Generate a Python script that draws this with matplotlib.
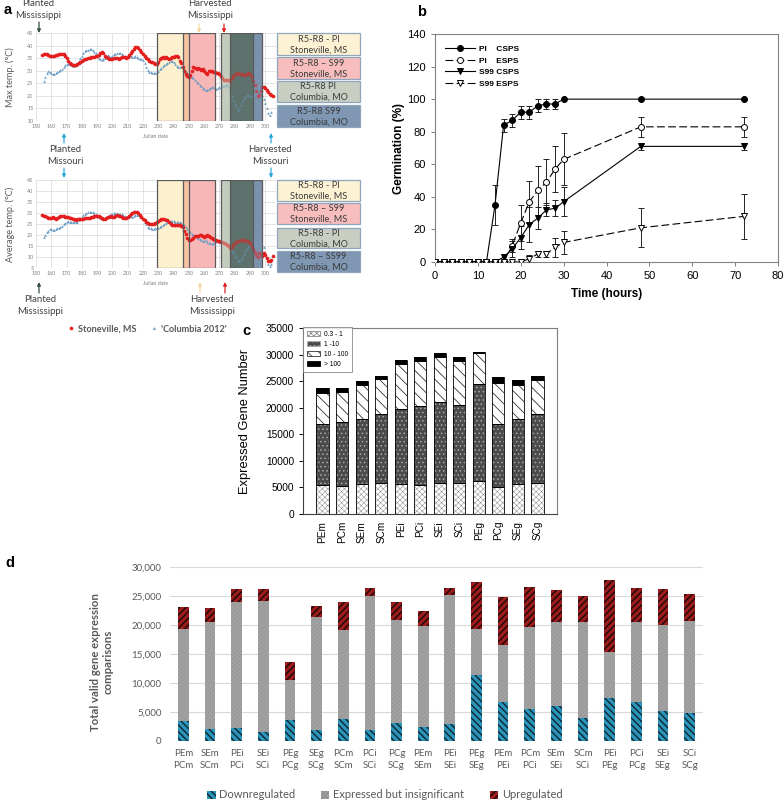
import matplotlib
matplotlib.use("Agg")
import matplotlib.pyplot as plt
from matplotlib.patches import Rectangle, FancyArrowPatch, Patch
from matplotlib.lines import Line2D
import numpy as np

# ---------------- DATA ----------------
# Panel a: daily temperatures
days_ms = list(range(154, 306))
days_mo = list(range(155, 305))
max_ms = [36.3, 36.6, 36.8, 36.5, 36.2, 36.0, 35.9, 35.8, 35.9, 36.1,
          36.3, 36.5, 36.6, 36.6, 36.5, 36.0, 35.0, 33.8, 33.2, 32.8,
          32.4, 32.1, 32.2, 32.5, 33.0, 33.4, 33.7, 34.1, 34.5, 34.8,
          35.0, 35.1, 35.3, 35.5, 35.6, 35.7, 35.8, 36.3, 37.0, 37.6,
          37.0, 36.0, 35.3, 35.0, 34.7, 34.6, 34.8, 35.0, 35.2, 35.0,
          34.8, 35.1, 35.5, 35.6, 35.3, 35.0, 35.6, 36.3, 37.0, 37.8,
          38.6, 39.3, 39.6, 39.0, 38.2, 37.5, 36.8, 36.0, 35.2, 34.5,
          34.0, 33.6, 33.3, 33.0, 32.8, 32.6, 33.5, 34.6, 35.2, 35.4,
          35.2, 35.5, 35.0, 34.8, 35.1, 35.4, 35.6, 35.9, 35.8, 35.5,
          34.0, 33.0, 31.5, 30.0, 28.8, 27.8, 27.5, 28.3, 30.0, 31.5,
          31.2, 30.8, 31.0, 30.6, 30.2, 30.5, 30.0, 29.2, 28.6, 29.8,
          30.0, 29.8, 29.5, 29.3, 29.2, 29.0, 28.6, 28.0, 27.2, 26.5,
          26.2, 26.4, 26.5, 26.0, 27.0, 28.0, 28.6, 28.8, 28.9, 28.8,
          28.6, 28.5, 28.4, 28.4, 28.7, 29.2, 28.6, 27.5, 25.8, 24.2,
          22.0, 20.0, 20.5, 22.0, 23.5, 23.6, 23.0, 22.4, 21.6, 20.8,
          20.2, 19.8]
max_mo = [26.0, 27.5, 29.0, 29.8, 29.5, 29.0, 28.8, 28.8, 29.2, 29.6,
          30.0, 30.4, 30.8, 31.5, 32.2, 32.6, 32.8, 32.5, 32.2, 32.0,
          31.8, 32.3, 33.0, 34.0, 35.0, 36.0, 37.0, 37.8, 38.2, 38.4,
          38.5, 38.6, 38.2, 37.6, 37.0, 36.0, 35.0, 34.5, 34.2, 34.6,
          35.2, 35.8, 36.3, 36.0, 35.6, 36.0, 36.5, 36.8, 37.0, 37.2,
          37.0, 36.6, 36.2, 35.8, 35.5, 35.6, 35.8, 35.7, 35.5, 35.6,
          35.7, 35.6, 35.2, 34.8, 34.6, 34.2, 33.0, 31.5, 30.2, 29.6,
          29.3, 29.1, 29.0, 29.0, 29.3, 29.8, 30.5, 31.2, 31.8, 32.3,
          32.8, 33.2, 33.5, 33.8, 34.0, 33.6, 32.8, 32.0, 31.6, 31.5,
          31.3, 31.0, 30.5, 29.8, 29.2, 28.8, 28.3, 27.6, 27.0, 26.2,
          25.5, 25.0, 24.4, 23.8, 23.2, 22.6, 22.2, 22.4, 22.9, 23.3,
          23.6, 23.4, 23.0, 22.8, 23.0, 23.4, 23.7, 24.0, 23.8, 24.2,
          24.4, 23.5, 21.8, 20.0, 18.4, 16.8, 15.4, 14.4, 15.2, 16.4,
          17.8, 18.8, 19.6, 20.2, 20.4, 20.0, 19.8, 20.6, 21.8, 22.6,
          23.0, 22.4, 21.5, 20.3, 18.8, 17.2, 15.0, 13.0, 12.2, 13.6]
avg_ms = [29.0, 28.8, 28.6, 28.2, 27.9, 27.6, 27.8, 28.2, 27.8, 27.4,
          27.8, 28.4, 28.6, 28.7, 28.5, 28.3, 28.4, 28.2, 27.9, 27.6,
          27.4, 27.2, 27.0, 27.2, 27.5, 27.3, 27.2, 27.5, 27.8, 27.6,
          27.7, 27.9, 28.1, 28.3, 28.5, 28.6, 28.8, 28.6, 28.2, 27.8,
          27.5, 27.4, 27.6, 28.0, 28.3, 28.5, 28.4, 28.2, 28.6, 29.0,
          28.8, 28.5, 28.0, 27.7, 27.6, 27.8, 28.2, 28.8, 29.5, 30.0,
          30.4, 30.6, 30.3, 29.8, 29.0, 28.2, 27.5, 26.8, 26.0, 25.4,
          25.0, 24.8, 24.9, 25.2, 25.6, 26.0, 26.4, 26.8, 27.2, 27.5,
          27.3, 27.0, 26.6, 26.0, 25.2, 24.6, 24.5, 24.4, 24.5, 24.6,
          24.4, 24.0, 23.5, 22.0, 20.5, 18.8, 17.8, 17.6, 18.0, 18.8,
          19.4, 19.6, 19.4, 19.8, 20.0, 19.6, 19.2, 19.4, 19.8, 19.5,
          19.0, 18.6, 18.2, 17.9, 17.6, 17.4, 17.2, 17.0, 16.8, 16.5,
          16.0, 15.5, 14.8, 14.0, 14.5, 15.5, 16.4, 17.0, 17.3, 17.5,
          17.6, 17.7, 17.6, 17.5, 17.4, 17.3, 16.5, 15.2, 13.8, 12.2,
          11.0, 10.0, 12.0, 11.5, 10.5, 11.8, 11.0, 9.5, 8.4, 8.0,
          8.6, 10.5]
avg_mo = [19.2, 20.2, 21.2, 22.0, 22.6, 22.8, 22.5, 22.4, 22.6, 23.0,
          23.3, 23.5, 24.0, 24.8, 25.5, 26.0, 26.2, 26.1, 26.0, 25.8,
          25.9, 26.1, 26.0, 26.6, 27.4, 28.2, 28.9, 29.5, 30.0, 30.3,
          30.5, 30.6, 30.4, 30.0, 29.5, 29.0, 28.3, 27.8, 27.5, 27.4,
          27.6, 28.0, 28.6, 29.1, 29.4, 29.6, 29.8, 30.0, 29.8, 29.5,
          29.6, 29.4, 29.0, 28.6, 28.4, 28.6, 28.8, 28.6, 28.3, 28.5,
          28.9, 29.1, 29.0, 28.6, 28.0, 27.2, 26.0, 24.8, 23.8, 23.2,
          23.0, 22.9, 22.9, 23.0, 23.2, 23.4, 23.8, 24.2, 24.6, 25.1,
          25.6, 26.0, 26.3, 26.5, 26.4, 26.2, 26.0, 25.8, 25.9, 25.8,
          25.4, 24.9, 24.4, 23.6, 22.8, 22.0, 21.3, 20.6, 20.0, 19.4,
          18.9, 18.5, 18.2, 17.8, 17.4, 17.2, 17.6, 17.0, 16.5, 16.2,
          16.0, 16.5, 17.0, 17.3, 17.2, 17.0, 17.2, 17.4, 17.0, 16.6,
          16.0, 15.4, 14.6, 13.4, 12.2, 11.0, 10.0, 8.8, 8.2, 9.0,
          10.2, 11.4, 12.6, 13.6, 14.6, 15.5, 15.0, 14.6, 15.4, 16.4,
          17.2, 17.5, 16.8, 15.6, 14.4, 12.0, 9.5, 6.6, 5.9, 6.8]
# R5-R8 stage windows (Julian dates)
stage_pi_ms = (229, 250)
stage_s99_ms = (246, 267)
stage_pi_mo = (271, 292)
stage_s99_mo = (277, 298)
box_labels_top = ["R5-R8 - PI\nStoneville, MS", "R5-R8 \u2013 S99\nStoneville, MS",
                  "R5-R8 PI\nColumbia, MO", "R5-R8 S99\nColumbia, MO"]
box_labels_bot = ["R5-R8 - PI\nStoneville, MS", "R5-R8 \u2013 S99\nStoneville, MS",
                  "R5-R8 - PI\nColumbia, MO", "R5-R8 \u2013 SS99\nColumbia, MO"]

# Panel b: germination
time_h = [0, 2, 4, 6, 8, 10, 12, 14, 16, 18, 20, 22, 24, 26, 28, 30, 48, 72]
pi_csps = [0, 0, 0, 0, 0, 0, 0, 35, 84, 87, 92, 92, 96, 97, 97, 100, 100, 100]
pi_csps_err = [0, 0, 0, 0, 0, 0, 0, 12, 4, 4, 4, 4, 4, 3, 3, 0, 0, 0]
pi_esps = [0, 0, 0, 0, 0, 0, 0, 0, 0, 10, 24, 37, 44, 49, 57, 63, 83, 83]
pi_esps_err = [0, 0, 0, 0, 0, 0, 0, 0, 0, 4, 11, 13, 15, 14, 14, 16, 6, 6]
s99_csps = [0, 0, 0, 0, 0, 0, 0, 0, 3, 8, 15, 23, 27, 32, 33, 37, 71, 71]
s99_csps_err = [0, 0, 0, 0, 0, 0, 0, 0, 2, 5, 7, 11, 7, 4, 5, 9, 2, 2]
s99_esps = [0, 0, 0, 0, 0, 0, 0, 0, 0, 0, 0, 2, 5, 5, 9, 12, 21, 28]
s99_esps_err = [0, 0, 0, 0, 0, 0, 0, 0, 0, 0, 0, 2, 2, 2, 6, 7, 12, 14]
b_labels = ["PI    CSPS", "PI    ESPS", "S99 CSPS", "S99 ESPS"]

# Panel c: expressed gene numbers by FPKM class
c_cats = ["PEm", "PCm", "SEm", "SCm", "PEi", "PCi", "SEi", "SCi", "PEg", "PCg", "SEg", "SCg"]
c_03_1 = [5400, 5300, 5600, 5800, 5600, 5500, 5800, 5800, 6200, 5100, 5600, 5800]
c_1_10 = [11500, 12100, 12200, 13100, 14200, 14900, 15200, 14700, 18300, 11900, 12200, 13100]
c_10_100 = [5800, 5600, 6400, 6500, 8400, 8300, 8500, 8200, 5800, 7700, 6500, 6400]
c_gt100 = [950, 800, 900, 650, 850, 750, 800, 850, 250, 1150, 930, 750]
c_legend = ["0.3 - 1", "1 -10", "10 - 100", "> 100"]

# Panel d: comparisons
d_labels = ["PEm\nPCm", "SEm\nSCm", "PEi\nPCi", "SEi\nSCi", "PEg\nPCg", "SEg\nSCg",
            "PCm\nSCm", "PCi\nSCi", "PCg\nSCg", "PEm\nSEm", "PEi\nSEi", "PEg\nSEg",
            "PEm\nPEi", "PCm\nPCi", "SEm\nSEi", "SCm\nSCi", "PEi\nPEg", "PCi\nPCg",
            "SEi\nSEg", "SCi\nSCg"]
d_down = [3450, 2070, 2180, 1490, 3620, 1900, 3740, 1950, 3160, 2410,
          2990, 11380, 6670, 5520, 6090, 4020, 7470, 6720, 5230, 4830]
d_expr = [15920, 18450, 21790, 22710, 6950, 19480, 15460, 23110, 17700, 17480,
          22180, 7930, 9820, 14190, 14370, 16560, 7930, 13740, 14710, 15920]
d_up = [3680, 2410, 2180, 2060, 3050, 1950, 4770, 1380, 3050, 2580,
        1210, 8100, 8340, 6780, 5520, 4420, 12420, 5920, 6270, 4590]
d_legend = ["Downregulated", "Expressed but insignificant", "Upregulated"]

# ---------------- FIGURE ----------------
W, H = 784, 802
fig = plt.figure(figsize=(W / 100, H / 100), dpi=100)
CAL = "Lato"
ARI = "Liberation Sans"


def axpx(l, t, r, b):
    return fig.add_axes([l / W, 1 - b / H, (r - l) / W, (b - t) / H])


def fxy(x, y):
    return (x / W, 1 - y / H)


def ftext(x, y, s, **kw):
    fig.text(x / W, 1 - y / H, s, **kw)


def farrow(x, y0, y1, color):
    fig.add_artist(FancyArrowPatch(fxy(x, y0), fxy(x, y1), transform=fig.transFigure,
                                   arrowstyle="-|>", mutation_scale=5, color=color,
                                   lw=0.9, shrinkA=0, shrinkB=0))


# ---------- Panel a ----------
col_yel, col_org, col_pink = "#FDF0CF", "#F6C3A2", "#F8B7B7"
col_gg, col_dark, col_blue = "#C4CCBE", "#5D716D", "#7B92AD"


def temp_panel(ax, vms, vmo, ylo, yhi, ylabel):
    ax.set_xlim(150, 307)
    ax.set_ylim(ylo, yhi)
    ax.set_xticks(range(150, 301, 10))
    ax.set_yticks(range(ylo, yhi + 1, 5))
    ax.grid(True, color="#D9D9D9", lw=0.5)
    ax.set_axisbelow(True)
    for s in ax.spines.values():
        s.set_visible(False)
    ax.tick_params(length=0, labelsize=3.8, labelcolor="#7F7F7F", pad=2)
    for lab in ax.get_xticklabels() + ax.get_yticklabels():
        lab.set_family(CAL)
    segs = [(stage_pi_ms[0], stage_s99_ms[0], col_yel),
            (stage_s99_ms[0], stage_pi_ms[1], col_org),
            (stage_pi_ms[1], stage_s99_ms[1], col_pink),
            (stage_pi_mo[0], stage_s99_mo[0], col_gg),
            (stage_s99_mo[0], stage_pi_mo[1], col_dark),
            (stage_pi_mo[1], stage_s99_mo[1], col_blue)]
    for x0, x1, c in segs:
        ax.axvspan(x0, x1, color=c, lw=0, zorder=1)
    ax.plot(days_mo, vmo, "^", ms=1.9, color="#6C9DC6", mec="none", zorder=2)
    ax.plot(days_ms, vms, "o", ms=2.6, color="#E41E1E", mec="none", zorder=3)
    for x0, x1, c in segs[3:]:
        ax.axvspan(x0, x1, color=c, alpha=0.45, lw=0, zorder=4)
    for st in (stage_pi_ms, stage_s99_ms, stage_pi_mo, stage_s99_mo):
        ax.add_patch(Rectangle((st[0], ylo), st[1] - st[0], yhi - ylo, fill=False,
                               ec="#5A5A5A", lw=0.9, zorder=5))
    ax.set_xlabel("Julian date", fontsize=3.9, color="#7F7F7F", family=CAL, labelpad=4)
    ax.set_ylabel(ylabel, fontsize=6.6, color="#595959", family=CAL)
    ax.yaxis.set_label_coords(-0.088, 0.5)


ax_a1 = axpx(36, 33, 276, 121)
temp_panel(ax_a1, max_ms, max_mo, 10, 45, "Max temp. (\u00b0C)")
ax_a2 = axpx(36, 180, 276, 268)
temp_panel(ax_a2, avg_ms, avg_mo, 5, 45, "Average temp. (\u00b0C)")

box_cols = ["#FDF2D3", "#F8BEBE", "#C8CFC2", "#7F97B3"]
for ys, labels in (([(33, 55), (57, 79), (81, 102), (105, 127)], box_labels_top),
                   ([(180, 201), (203, 224), (228, 248), (251, 272)], box_labels_bot)):
    for (t, b), lab, c in zip(ys, labels, box_cols):
        fig.add_artist(Rectangle(fxy(277, b), 83 / W, (b - t) / H, transform=fig.transFigure,
                                 facecolor=c, edgecolor="#8FA6BC", lw=0.9))
        ftext(318.5, (t + b) / 2 + 0.5, lab, ha="center", va="center", fontsize=6.6,
              family=CAL, color="#3A3A3A", linespacing=1.25)

tc = "#404040"
for x, y, s in [(38, 4, "Planted"), (38, 16, "Mississippi"),
                (210, 4, "Harvested"), (210, 16, "Mississippi"),
                (65, 150, "Planted"), (65, 162, "Missouri"),
                (270, 150, "Harvested"), (270, 162, "Missouri"),
                (40, 299, "Planted"), (40, 312, "Mississippi"),
                (212, 299, "Harvested"), (212, 312, "Mississippi")]:
    ftext(x, y, s, ha="center", va="center", fontsize=6.9, family=CAL, color=tc)

farrow(39, 22, 33, "#33503F")
farrow(199, 24, 33, "#F5D7A2")
farrow(224, 24, 33, "#E02020")
farrow(64, 143, 133, "#2AA8D6")
farrow(64, 168, 178, "#2AA8D6")
farrow(271, 143, 133, "#2AA8D6")
farrow(271, 168, 178, "#2AA8D6")
farrow(39, 293, 282, "#33503F")
farrow(200, 293, 282, "#F5D7A2")
farrow(225, 293, 282, "#E02020")

leg_a = [Line2D([], [], ls="none", marker="o", ms=2.6, color="#E41E1E", mec="none"),
         Line2D([], [], ls="none", marker="^", ms=2.2, color="#6C9DC6", mec="none")]
fig.legend(leg_a, ["Stoneville, MS", "'Columbia 2012'"], loc="center",
           bbox_to_anchor=fxy(147, 329), ncol=2, frameon=False,
           prop={"family": CAL, "size": 6.6, "weight": "bold"}, handlelength=0.8,
           handletextpad=0.3, columnspacing=1.6, labelcolor="#595959")

# ---------- Panel b ----------
ax_b = axpx(435, 34, 778, 262)
series_b = [(pi_csps, pi_csps_err, "-", "o", "black"),
            (pi_esps, pi_esps_err, (0, (7, 3)), "o", "white"),
            (s99_csps, s99_csps_err, "-", "v", "black"),
            (s99_esps, s99_esps_err, (0, (7, 3)), "v", "white")]
handles_b = []
for (vals, errs, ls, mk, mfc), lab in zip(series_b, b_labels):
    t_nz = [t for t, e in zip(time_h, errs) if e > 0]
    v_nz = [v for v, e in zip(vals, errs) if e > 0]
    e_nz = [e for e in errs if e > 0]
    ax_b.errorbar(t_nz, v_nz, yerr=e_nz, fmt="none", ecolor="#222222",
                  elinewidth=0.7, capsize=2.3, capthick=0.7, zorder=2)
    ln, = ax_b.plot(time_h, vals, linestyle=ls, marker=mk, ms=4.3, mfc=mfc, mec="black",
                    mew=0.7, color="black", lw=0.8, zorder=3, label=lab)
    handles_b.append(ln)
ax_b.set_xlim(0, 80)
ax_b.set_ylim(0, 140)
ax_b.set_xticks(range(0, 81, 10))
ax_b.set_yticks(range(0, 141, 20))
for s in ax_b.spines.values():
    s.set_color("#808080")
    s.set_linewidth(0.8)
ax_b.tick_params(direction="out", length=3, width=0.7, color="#808080", labelsize=8)
for lab in ax_b.get_xticklabels() + ax_b.get_yticklabels():
    lab.set_family(ARI)
ax_b.set_xlabel("Time (hours)", fontsize=8.5, fontweight="bold", family=ARI, labelpad=5)
ax_b.legend(handles=handles_b, loc="upper left", bbox_to_anchor=(0.02, 0.965), frameon=False,
            prop={"family": ARI, "size": 6, "weight": "bold"}, handlelength=3.6,
            labelspacing=0.45, handletextpad=0.4, borderaxespad=0)
ftext(399, 148, "Germination (%)", rotation=90, ha="center", va="center", fontsize=8.5,
      fontweight="bold", family=ARI)

# ---------- Panel c ----------
ax_c = axpx(303, 328, 557, 514)
xc = np.arange(len(c_cats))
wc = 0.62
c_styles = [dict(facecolor="white", edgecolor="#8A8A8A", hatch="xxxxxx"),
            dict(facecolor="#4B4B4B", edgecolor="#A8A8A8", hatch="...."),
            dict(facecolor="white", edgecolor="#333333", hatch="\\\\\\"),
            dict(facecolor="black", edgecolor="black", hatch=None)]
c_hlw = [0.35, 0.6, 0.6, 0.5]
bottom = np.zeros(len(c_cats))
c_handles = []
for vals, st, hlw, lab in zip([c_03_1, c_1_10, c_10_100, c_gt100], c_styles, c_hlw, c_legend):
    plt.rcParams["hatch.linewidth"] = hlw
    ax_c.bar(xc, vals, wc, bottom=bottom, lw=0, zorder=2, **st)
    ax_c.bar(xc, vals, wc, bottom=bottom, fill=False, edgecolor="black", lw=0.6, zorder=3)
    c_handles.append(Patch(lw=0.6, **st))
    bottom += np.array(vals)
plt.rcParams["hatch.linewidth"] = 0.6
ax_c.set_xlim(-1.0, 12.0)
ax_c.set_ylim(0, 35000)
ax_c.set_yticks(range(0, 35001, 5000))
ax_c.set_xticks(xc)
ax_c.set_xticklabels(c_cats, rotation=90, fontsize=7.2, family=ARI)
for s in ax_c.spines.values():
    s.set_color("#7F7F7F")
    s.set_linewidth(0.8)
ax_c.spines["left"].set_color("#404040")
ax_c.spines["bottom"].set_color("#404040")
ax_c.tick_params(axis="y", direction="out", length=3, width=0.7, labelsize=7.3)
ax_c.tick_params(axis="x", length=0, pad=5)
for lab in ax_c.get_yticklabels():
    lab.set_family(ARI)
ax_c.set_ylabel("Expressed Gene Number", fontsize=9.3, family=ARI)
ax_c.yaxis.set_label_coords(-0.205, 0.5)
leg_c = ax_c.legend(handles=c_handles, labels=c_legend, loc="upper left", bbox_to_anchor=(0, 1.005),
                    frameon=True, fancybox=False, edgecolor="#7F7F7F", borderaxespad=0,
                    prop={"family": ARI, "size": 4.8}, handlelength=1.9, handleheight=0.8,
                    labelspacing=0.45, handletextpad=0.6, borderpad=0.6)
leg_c.get_frame().set_linewidth(0.7)

# ---------- Panel d ----------
ax_d = axpx(170, 567, 703, 741)
xd = np.arange(len(d_labels))
wd = 0.4
d_styles = [dict(facecolor="#2A94BB", edgecolor="#0E2630", hatch="\\\\\\\\\\"),
            dict(facecolor="#A2A2A2", edgecolor="#8C8C8C", hatch="////////"),
            dict(facecolor="#9A1C1C", edgecolor="#1E0606", hatch="/////")]
d_hlw = [1.0, 0.35, 1.0]
bottom = np.zeros(len(d_labels))
d_handles = []
for vals, st, hlw in zip([d_down, d_expr, d_up], d_styles, d_hlw):
    plt.rcParams["hatch.linewidth"] = hlw
    ax_d.bar(xd, vals, wd, bottom=bottom, lw=0, zorder=2, **st)
    d_handles.append(Patch(lw=0, **st))
    bottom += np.array(vals)
ax_d.set_xlim(-0.5, len(d_labels) - 0.5)
ax_d.set_ylim(0, 30000)
ax_d.set_yticks(range(0, 30001, 5000))
ax_d.set_yticklabels([f"{v:,}" for v in range(0, 30001, 5000)])
ax_d.set_xticks(xd)
ax_d.set_xticklabels(d_labels, fontsize=6.8, family=CAL, color="#595959", linespacing=1.45)
ax_d.grid(axis="y", color="#D9D9D9", lw=0.8)
ax_d.set_axisbelow(True)
for s in ax_d.spines.values():
    s.set_visible(False)
ax_d.tick_params(length=0, labelsize=7, labelcolor="#595959")
ax_d.tick_params(axis="y", pad=6)
ax_d.tick_params(axis="x", pad=6)
for lab in ax_d.get_yticklabels():
    lab.set_family(CAL)
ftext(102, 662, "Total valid gene expression\ncomparisons", rotation=90, ha="center",
      va="center", fontsize=8.2, fontweight="bold", family=CAL, color="#595959",
      multialignment="center", linespacing=1.25)
fig.legend(d_handles, d_legend, loc="center", bbox_to_anchor=fxy(385, 795), ncol=3,
           frameon=False, prop={"family": CAL, "size": 8}, handlelength=0.75,
           handleheight=0.75, handletextpad=0.35, columnspacing=2.3, labelcolor="#595959")

# ---------- Panel letters ----------
for x, y, s in [(8, 10, "a"), (422, 12, "b"), (246, 331, "c"), (10, 563, "d")]:
    ftext(x, y, s, ha="center", va="center", fontsize=10.5, fontweight="bold", family=ARI)

fig.savefig("out.png", dpi=100, facecolor="white")
